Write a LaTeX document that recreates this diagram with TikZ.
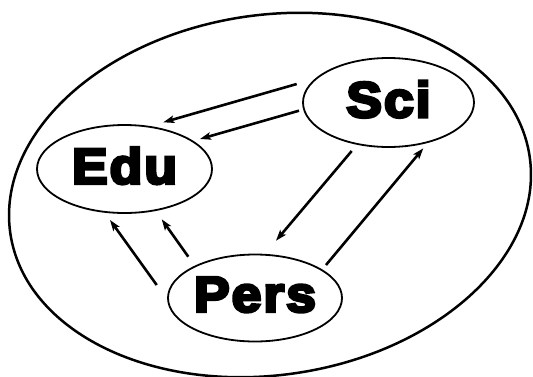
\documentclass[tikz,border=0pt]{standalone}
\usepackage{fontspec}
\newfontfamily\lbl{Liberation Sans Bold}[FakeBold=6, FakeStretch=1.07, LetterSpace=4]
\usetikzlibrary{shapes.geometric,arrows.meta}
\tikzset{
  x=1pt, y=-1pt,
  topic/.style={draw, ellipse, line width=1.8pt, inner sep=0pt, font=\lbl\fontsize{50}{50}\selectfont, text depth=7pt},
  arr/.style={line width=2.6pt, -{Stealth[length=11pt,width=7.5pt,inset=2.5pt]}},
  outer/.style={line width=2.5pt}
}
\begin{document}
\begin{tikzpicture}
\useasboundingbox (0,0) rectangle (533,376);
\draw[outer, rotate around={8.5:(270,195)}] (270,195) ellipse [x radius=262.5, y radius=180];
\node[topic, minimum width=175pt, minimum height=88pt] (edu) at (124.5,169) {Edu};
\node[topic, minimum width=171pt, minimum height=89pt] (sci) at (388.5,102.5) {Sci};
\node[topic, minimum width=174pt, minimum height=87pt] (pers) at (255,298) {Pers};
\draw[arr] ([shift={(-91.8,-18.5)}]sci.center) -- ([shift={(38.8,-46.7)}]edu.center);
\draw[arr] ([shift={(-89.5,8.2)}]sci.center) -- ([shift={(75.5,-30)}]edu.center);
\draw[arr] ([shift={(-36.8,48.5)}]sci.center) -- ([shift={(21,-57.3)}]pers.center);
\draw[arr] ([shift={(71,-33)}]pers.center) -- ([shift={(34.8,45.8)}]sci.center);
\draw[arr] ([shift={(-98.3,-13)}]pers.center) -- ([shift={(-14.5,51)}]edu.center);
\draw[arr] ([shift={(-66.7,-41.3)}]pers.center) -- ([shift={(37.2,50.3)}]edu.center);
\end{tikzpicture}
\end{document}
